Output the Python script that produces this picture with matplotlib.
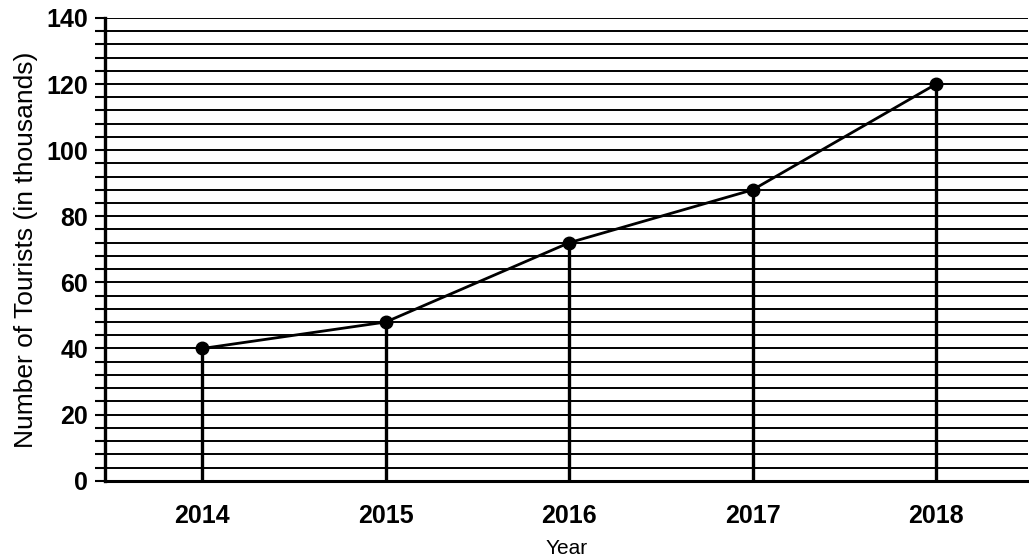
import matplotlib
matplotlib.use("Agg")
import matplotlib.pyplot as plt
import numpy as np

# Data
years = [2014, 2015, 2016, 2017, 2018]
tourists = [40, 48, 72, 88, 120]
y_major = [0, 20, 40, 60, 80, 100, 120, 140]
grid_step = 4

plt.rcParams['font.family'] = ['Liberation Sans', 'DejaVu Sans']

fig = plt.figure(figsize=(10.29, 5.59), dpi=100)
ax = fig.add_axes([0.102, 0.14, 0.897, 0.828])

# horizontal ruled grid every 4 units
grid_vals = np.arange(0, 140 + grid_step, grid_step)
for g in grid_vals:
    ax.axhline(g, color='black', lw=1.4, zorder=1)

# vertical drop lines from each point
ax.vlines(years, 0, tourists, color='black', lw=2.4, zorder=2)
# line with markers
ax.plot(years, tourists, color='black', lw=2, marker='o', markersize=9, zorder=3)

ax.set_xlim(2013.47, 2018.5)
ax.set_ylim(0, 140)
ax.set_xticks(years)
ax.set_xticklabels([str(y) for y in years], fontsize=18, fontweight='bold')
ax.set_yticks(y_major)
ax.set_yticklabels([str(v) for v in y_major], fontsize=18, fontweight='bold')
ax.set_yticks(grid_vals, minor=True)
ax.tick_params(axis='y', which='both', direction='out', length=7, width=1.5, pad=5)
ax.tick_params(axis='x', length=0, pad=17)

ax.set_xlabel('Year', fontsize=15, labelpad=8)
ax.set_ylabel('Number of Tourists (in thousands)', fontsize=19, labelpad=6)

for s in ['top', 'right']:
    ax.spines[s].set_visible(False)
ax.spines['left'].set_linewidth(2.4)
ax.spines['bottom'].set_linewidth(2.2)

fig.savefig('out.png', dpi=100)
